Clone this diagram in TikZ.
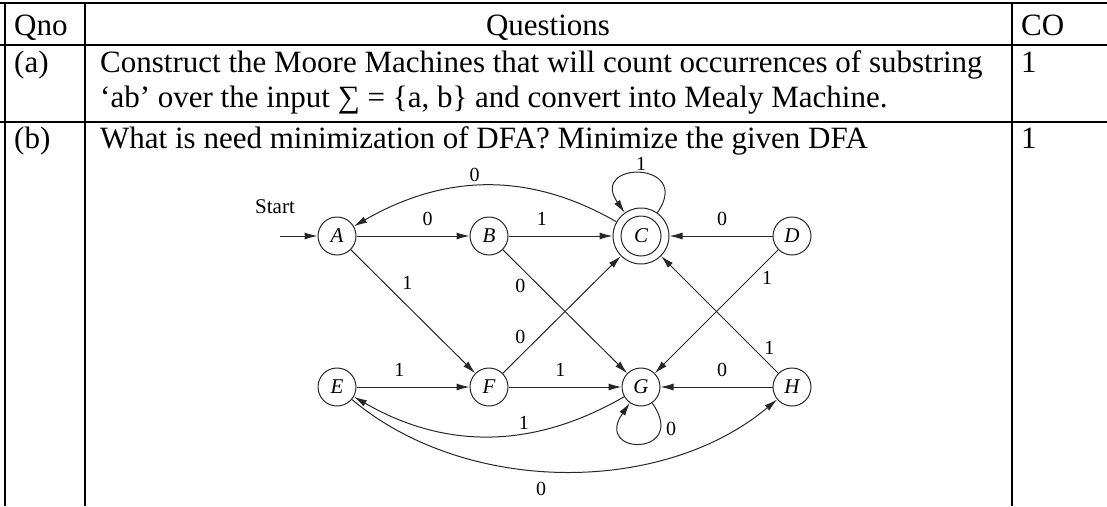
\documentclass[tikz,border=0pt]{standalone}
\usepackage{fontspec}
\setmainfont{Liberation Serif}
\usetikzlibrary{arrows.meta}
\begin{document}
\begin{tikzpicture}[x=1pt,y=1pt,
  tab/.style={line width=2.2pt},
  txt/.style={anchor=base west, inner sep=0pt, font=\fontsize{31}{36}\selectfont},
  st/.style={circle, draw=black!85, line width=1pt, minimum size=38pt, inner sep=0pt, font=\fontsize{21}{24}\selectfont\itshape},
  tr/.style={draw=black!85, line width=1pt, -{Latex[length=13pt,width=7pt]}},
  lab/.style={font=\fontsize{20}{22}\selectfont, inner sep=2pt}]
\useasboundingbox (0,0) rectangle (1107,-506);
% table
\draw[tab] (0,-3) -- (1107,-3);
\draw[tab] (0,-45) -- (1107,-45);
\draw[tab] (0,-122) -- (1107,-122);
\draw[tab] (5,-3) -- (5,-506);
\draw[tab] (85,-3) -- (85,-506);
\draw[tab] (1012,-3) -- (1012,-506);
% texts
\node[txt] (hq) at (14,-35) {Qno};
\node[txt, anchor=base] (hqs) at (548,-35) {Questions};
\node[txt] (hco) at (1021,-35) {CO};
\node[txt] (qa) at (14,-72) {(a)};
\node[txt] (ta1) at (100,-72) {Construct the Moore Machines that will count occurrences of substring};
\node[txt] (ta2) at (100,-107) {‘ab’ over the input ∑ = \{a, b\} and convert into Mealy Machine.};
\node[txt] (ca) at (1021,-72) {1};
\node[txt] (qb) at (14,-148) {(b)};
\node[txt] (tb) at (100,-148) {What is need minimization of DFA? Minimize the given DFA};
\node[txt] (cb) at (1021,-148) {1};
% DFA states
\node[st] (A) at (337,-236) {A};
\node[st] (B) at (489,-236) {B};
\node[st, minimum size=56pt] (C) at (641,-236) {};
\draw[draw=black!85, line width=1pt] (C.center) circle[radius=20pt];
\node[font=\fontsize{21}{24}\selectfont\itshape] (Cl) at (C.center) {C};
\node[st] (D) at (792,-236) {D};
\node[st] (E) at (337,-387) {E};
\node[st] (F) at (489,-387) {F};
\node[st] (G) at (641,-387) {G};
\node[st] (H) at (792,-387) {H};
% start
\coordinate (s0) at (280,-236);
\node[font=\fontsize{21}{24}\selectfont, anchor=base, inner sep=0pt] (start) at (275,-213) {Start};
\draw[tr] (s0) -- (A);
% transitions
\draw[tr] (A) -- node[lab, pos=0.63, above=8pt] {0} (B);
\draw[tr] (B) -- node[lab, pos=0.32, above=8pt] {1} (C);
\draw[tr] (D) -- node[lab, pos=0.49, above=8pt] {0} (C);
\draw[tr] (H) -- node[lab, pos=0.45, above=8pt] {0} (G);
\draw[tr] (E) -- node[lab, pos=0.38, above=8pt] {1} (F);
\draw[tr] (F) -- node[lab, pos=0.46, above=8pt] {1} (G);
\draw[tr] (A) -- node[lab, pos=0.37, above right=3pt] {1} (F);
\draw[tr] (B) -- node[lab, pos=0.21, below left=1pt] {0} (G);
\draw[tr] (F) -- node[lab, pos=0.22, above left=1pt] {0} (C);
\draw[tr] (D) -- node[lab, pos=0.15, below right=0pt] {1} (G);
\draw[tr] (H) -- node[lab, pos=0.14, above right=0pt] {1} (C);
\draw[tr] (C) to[out=150,in=30] node[lab, pos=0.54, above=2pt] {0} (A);
\draw[tr] (G) to[out=210,in=-30] node[lab, pos=0.37, above=2pt] {1} (E);
\draw[tr] (E) to[out=-40,in=220,looseness=0.9] node[lab, pos=0.45, below=9pt] {0} (H);
\draw[tr] (C) to[out=55,in=125,looseness=5] (C);
\begin{scope}
  \clip (600,-157) rectangle (680,-185);
  \path (C) to[out=55,in=125,looseness=5] node[lab, pos=0.5, above=1pt] {1} (C);
\end{scope}
\draw[tr] (G) to[out=-55,in=-125,looseness=7.5] node[lab, pos=0.2, right=3pt] {0} (G);
\end{tikzpicture}
\end{document}
